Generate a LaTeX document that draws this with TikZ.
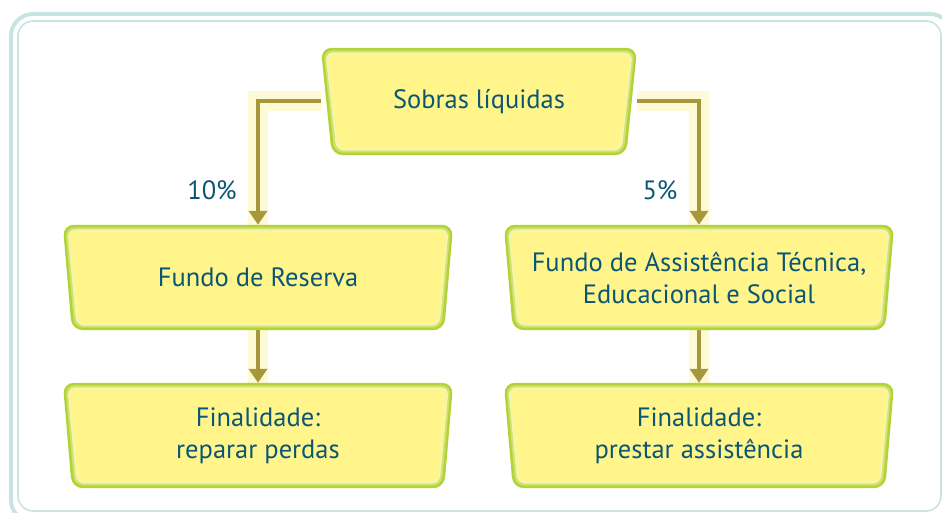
\documentclass[tikz,border=0pt]{standalone}
\usepackage{fontspec}
\setmainfont{PT Sans}
\usetikzlibrary{arrows.meta}
\pgfdeclarelayer{bg}
\pgfdeclarelayer{boxes}
\pgfsetlayers{bg,boxes,main}
\definecolor{framec}{HTML}{C6E4E1}
\definecolor{textc}{HTML}{0B5675}
\definecolor{gout}{HTML}{B2D235}
\definecolor{gmid}{HTML}{CDE36C}
\definecolor{ylight}{HTML}{F7F4AE}
\definecolor{yfill}{HTML}{FFF58A}
\definecolor{haloc}{HTML}{FFFAD6}
\definecolor{connc}{HTML}{A6983A}
\newcommand\trapfill[4]{%
  \fill[#4] ([xshift={#3*1pt},yshift={-#3*1pt}]#1.north west)
    -- ([xshift={-#3*1pt},yshift={-#3*1pt}]#1.north east)
    -- ([xshift={-(#2+#3)*1pt},yshift={#3*1pt}]#1.south east)
    -- ([xshift={(#2+#3)*1pt},yshift={#3*1pt}]#1.south west) -- cycle;}
\newcommand\trapbox[2]{%
  \trapfill{#1}{#2}{0}{gout,rounded corners=11pt}%
  \trapfill{#1}{#2}{2.5}{gmid,rounded corners=9pt}%
  \trapfill{#1}{#2}{4.5}{ylight,rounded corners=8pt}%
  \trapfill{#1}{#2}{6.5}{yfill,rounded corners=7pt}}
\begin{document}
\begin{tikzpicture}[x=1pt,y=-1pt,
  txt/.style={text=textc,font=\fontsize{26.5}{32}\selectfont,align=center,inner sep=0pt},
  boxnode/.style={txt,minimum height=105pt,minimum width=390pt},
  halo/.style={draw=haloc,line width=20pt,line join=miter},
  conn/.style={draw=connc,line width=4pt,line join=miter,-{Triangle[width=18pt,length=14pt]}}]
\useasboundingbox (0,0) rectangle (942,513);
\begin{scope}
\clip (0,0) rectangle (942,513);
\draw[framec,line width=4pt,rounded corners=22pt] (11,14) rectangle (952,522);
\draw[framec,line width=1.6pt,rounded corners=15pt] (18,21) rectangle (941,511);
\end{scope}
% nodes
\node[txt,minimum width=316pt,minimum height=107pt] (top) at (479,101.5) {Sobras líquidas};
\node[boxnode] (fr) at (258,277.5) {Fundo de Reserva};
\node[boxnode] (fa) at (699,277.5) {Fundo de Assistência Técnica,\\Educacional e Social};
\node[boxnode] (f1) at (258,435.5) {Finalidade:\\reparar perdas};
\node[boxnode] (f2) at (699,435.5) {Finalidade:\\prestar assistência};
\node[txt] (p10) at (212,190) {10\%};
\node[txt] (p5) at (660,190) {5\%};
% box shapes
\begin{pgfonlayer}{boxes}
\trapbox{top}{11}
\trapbox{fr}{9}
\trapbox{fa}{9}
\trapbox{f1}{9}
\trapbox{f2}{9}
\end{pgfonlayer}
% connectors
\begin{pgfonlayer}{bg}
\path[halo] (top.west) -| (fr.north);
\path[halo] (top.east) -| (fa.north);
\path[halo] (fr.south) -- (f1.north);
\path[halo] (fa.south) -- (f2.north);
\path[conn] (top.west) -| (fr.north);
\path[conn] (top.east) -| (fa.north);
\path[conn] (fr.south) -- (f1.north);
\path[conn] (fa.south) -- (f2.north);
\end{pgfonlayer}
\end{tikzpicture}
\end{document}
